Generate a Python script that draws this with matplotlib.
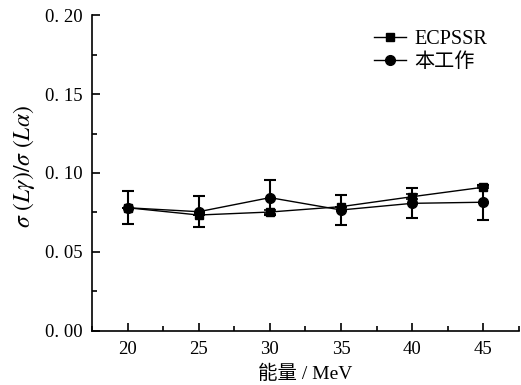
import matplotlib
matplotlib.use("Agg")
import matplotlib.pyplot as plt
from matplotlib.lines import Line2D
from matplotlib.ticker import MultipleLocator, FuncFormatter

energy = [20, 25, 30, 35, 40, 45]
ecpssr = [0.078, 0.0734, 0.0753, 0.0787, 0.085, 0.091]
ecpssr_err = [0.0, 0.0, 0.0015, 0.0, 0.0015, 0.0008]
this_work = [0.078, 0.0755, 0.0844, 0.0766, 0.0808, 0.0815]
this_work_err = [0.0105, 0.0099, 0.0112, 0.0096, 0.0096, 0.0112]

plt.rcParams['font.family'] = ['Liberation Serif', 'Noto Sans CJK SC']
plt.rcParams['mathtext.fontset'] = 'stix'

fig = plt.figure(figsize=(5.21, 3.85), dpi=100)
ax = fig.add_axes([0.1766, 0.1403, 0.8194, 0.8207])

ax.errorbar(energy, ecpssr, yerr=ecpssr_err, color='black', marker='s', markersize=6,
            lw=1.0, capsize=4, elinewidth=1.2, capthick=1.2)
ax.errorbar(energy, this_work, yerr=this_work_err, color='black', marker='o', markersize=7,
            lw=1.0, capsize=4, elinewidth=1.5, capthick=1.5)

ax.set_xlim(17.5, 47.5)
ax.set_ylim(0, 0.20)
ax.xaxis.set_major_locator(MultipleLocator(5))
ax.xaxis.set_minor_locator(MultipleLocator(2.5))
ax.yaxis.set_major_locator(MultipleLocator(0.05))
ax.yaxis.set_minor_locator(MultipleLocator(0.025))
ax.yaxis.set_major_formatter(FuncFormatter(lambda v, p: ('%.2f' % v).replace('.', '. ')))

for s in ['top', 'right']:
    ax.spines[s].set_visible(False)
for s in ['left', 'bottom']:
    ax.spines[s].set_linewidth(1.2)
ax.tick_params(which='major', direction='in', length=6, width=1.2, labelsize=13.5)
ax.tick_params(which='minor', direction='in', length=3.5, width=1.2)
ax.tick_params(axis='y', which='major', pad=6.5)
ax.tick_params(axis='x', which='major', pad=7)

ax.set_xlabel('能量 / MeV', fontsize=14, labelpad=5)
ax.set_ylabel(r'$\sigma\ (L\gamma)/\sigma\ (L\alpha)$', fontsize=17)
ax.yaxis.set_label_coords(-0.128, 0.52)

handles = [Line2D([], [], color='black', marker='s', markersize=6, lw=1.0),
           Line2D([], [], color='black', marker='o', markersize=7, lw=1.0)]
labels = ['ECPSSR', '本工作']
leg = ax.legend(handles, labels, loc='upper left', bbox_to_anchor=(0.66, 0.953), frameon=False,
                fontsize=14.5, handlelength=1.6, handletextpad=0.4, labelspacing=0.2,
                borderaxespad=0, borderpad=0)

fig.savefig('out.png', dpi=100)
